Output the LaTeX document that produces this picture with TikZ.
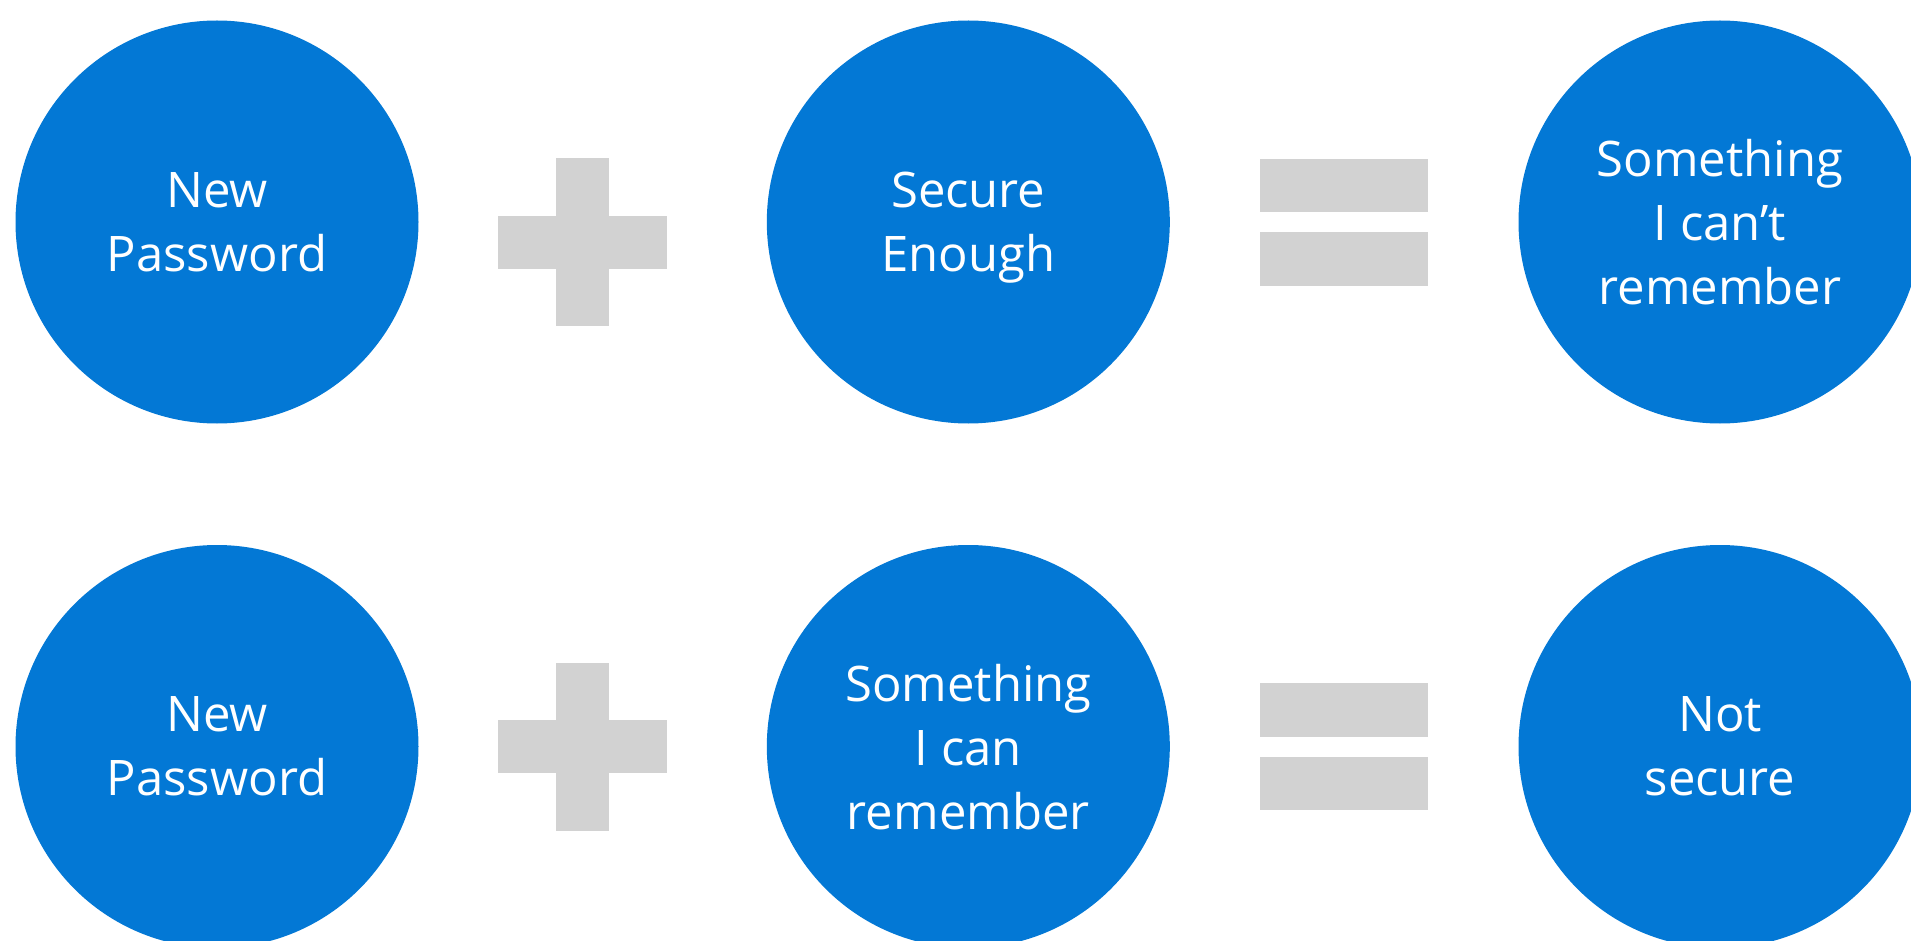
\documentclass[tikz,border=0pt]{standalone}
\usepackage{fontspec}
\setmainfont{Open Sans}
\definecolor{msblue}{HTML}{0378D5}
\definecolor{signgray}{HTML}{D2D2D2}

\begin{document}
\begin{tikzpicture}[x=0.5pt,y=-0.5pt,
    bubble/.style={circle,fill=msblue,minimum size=201.5pt,inner sep=0pt,
      text=white,align=center,text depth=0pt,font=\fontsize{24.5}{32}\selectfont}]
	\clip (0,0) rectangle (1911,941);
	\fill[white] (0,0) rectangle (1911,941);
	% top row
	\node[bubble] (newpw1) at (217,222) {New\\Password};
	\node[bubble] (secure) at (968.3,222) {Secure\\Enough};
	\node[bubble] (cant) at (1720,222) {Something\\I can’t\\remember};
	% bottom row
	\node[bubble] (newpw2) at (217,746.5) {New\\Password};
	\node[bubble] (can) at (968.3,746.5) {Something\\I can\\remember};
	\node[bubble] (notsec) at (1720,746.5) {Not\\secure};
	% plus signs
	\foreach \cy in {242.3,746.5}{
		\fill[signgray] (498.3,\cy-26.5) rectangle (666.7,\cy+26.5);
		\fill[signgray] (556,\cy-84) rectangle (609.3,\cy+84);
	}
	% equals signs
	\foreach \cy in {222.3,746.7}{
		\fill[signgray] (1260,\cy-63.3) rectangle (1428,\cy-10);
		\fill[signgray] (1260,\cy+10) rectangle (1428,\cy+63.3);
	}
\end{tikzpicture}
\end{document}
